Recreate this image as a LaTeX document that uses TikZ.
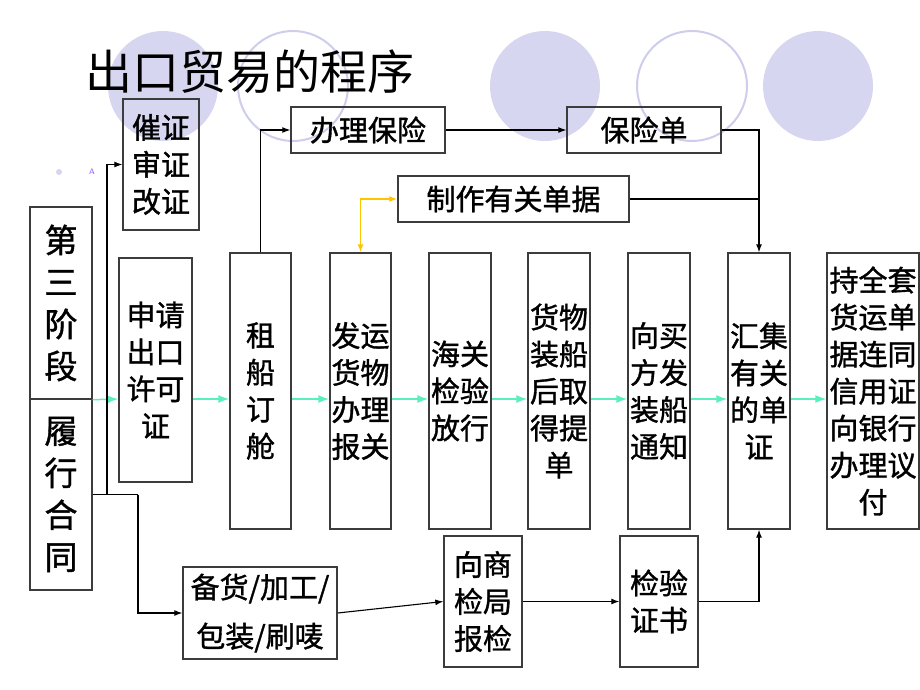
\documentclass[tikz,border=0pt]{standalone}
\usepackage{fontspec}
\newfontfamily\cjk{Noto Sans CJK SC}
\newfontfamily\cjkb[FakeBold=1.2]{Noto Sans CJK SC}
\usetikzlibrary{arrows.meta}
\definecolor{lav}{RGB}{214,214,240}
\definecolor{lavline}{RGB}{206,206,236}
\definecolor{flowg}{RGB}{90,240,190}
\definecolor{ylw}{RGB}{255,196,0}
\definecolor{boxc}{RGB}{60,60,60}
\definecolor{purp}{RGB}{150,80,255}
\begin{document}
\begin{tikzpicture}[x=1pt,y=-1pt,
 box/.style={draw=boxc,line width=1.4pt,inner sep=0pt,align=center,font=\cjkb\fontsize{29pt}{37pt}\selectfont},
 bigbox/.style={box,font=\cjkb\fontsize{33pt}{42pt}\selectfont},
 conn/.style={draw=black,line width=1.1pt,-{Latex[length=8pt,width=6pt]}},
 plainline/.style={draw=black,line width=1.1pt},
 flow/.style={draw=flowg,line width=1.5pt,-{Latex[length=11pt,width=8pt]}},
 yarrow/.style={draw=ylw,line width=1.3pt,{Latex[length=8pt,width=6pt]}-{Latex[length=8pt,width=6pt]}},
 fcirc/.style={fill=lav,draw=none},
 ocirc/.style={draw=lavline,line width=2pt},
]
\useasboundingbox (0,0) rectangle (920,690);
\fill[white] (0,0) rectangle (920,690);
% decorative circles
\fill[fcirc] (163,86) circle (55);
\draw[ocirc] (293,86) circle (55);
\fill[fcirc] (545,86) circle (55);
\draw[ocirc] (692,86) circle (55);
\fill[fcirc] (818,86) circle (55);
\fill[lav] (59,172) circle (3);
\node[text=purp,font=\sffamily\fontsize{8pt}{9pt}\selectfont,inner sep=0pt] (amark) at (92,172) {A};
% title
\node[font=\cjk\fontsize{47pt}{50pt}\selectfont,inner sep=0pt] (title) at (250,72) {出口贸易的程序};
% boxes
\node[box,minimum width=76pt,minimum height=131pt] (cz) at (161,164.5) {催证\\审证\\改证};
\node[box,minimum width=154pt,minimum height=46pt] (bl) at (368,130) {办理保险};
\node[box,minimum width=154pt,minimum height=46pt] (bxd) at (644,130) {保险单};
\node[box,minimum width=231pt,minimum height=46pt] (zz) at (513.5,199) {制作有关单据};
\node[bigbox,minimum width=62pt,minimum height=192pt] (ds) at (61,303) {第\\三\\阶\\段};
\node[bigbox,minimum width=62pt,minimum height=191pt] (lx) at (61,494.5) {履\\行\\合\\同};
\node[box,minimum width=73pt,minimum height=224pt] (sq) at (155.5,370) {申请\\出口\\许可\\证};
\node[box,minimum width=61pt,minimum height=276pt] (zc) at (260.5,391) {租\\船\\订\\舱};
\node[box,minimum width=61pt,minimum height=276pt] (fy) at (360.5,391) {发运\\货物\\办理\\报关};
\node[box,minimum width=62pt,minimum height=276pt] (hg) at (460,391) {海关\\检验\\放行};
\node[box,minimum width=62pt,minimum height=276pt] (hw) at (559,391) {货物\\装船\\后取\\得提\\单};
\node[box,minimum width=62pt,minimum height=276pt] (xm) at (659,391) {向买\\方发\\装船\\通知};
\node[box,minimum width=62pt,minimum height=276pt] (hj) at (759,391) {汇集\\有关\\的单\\证};
\node[box,minimum width=92pt,minimum height=276pt] (cq) at (873,391) {持全套\\货运单\\据连同\\信用证\\向银行\\办理议\\付};
\node[box,font=\cjkb\fontsize{29pt}{49pt}\selectfont,minimum width=154pt,minimum height=92pt] (bh) at (260,613) {备货/加工/\\包装/刷唛};
\node[box,minimum width=78pt,minimum height=131pt] (xs) at (483,601.5) {向商\\检局\\报检};
\node[box,minimum width=78pt,minimum height=131pt] (jy) at (659,601.5) {检验\\证书};
% green flow
\coordinate (gy) at (0,399);
\draw[flow] (ds.south east) -- (sq.west |- gy);
\draw[flow] (sq.east |- gy) -- (zc.west |- gy);
\draw[flow] (zc.east |- gy) -- (fy.west |- gy);
\draw[flow] (fy.east |- gy) -- (hg.west |- gy);
\draw[flow] (hg.east |- gy) -- (hw.west |- gy);
\draw[flow] (hw.east |- gy) -- (xm.west |- gy);
\draw[flow] (xm.east |- gy) -- (hj.west |- gy);
\draw[flow] (hj.east |- gy) -- (cq.west |- gy);
% black connectors
\draw[conn] (zc.north) |- (bl.west);
\draw[conn] (bl.east) -- (bxd.west);
\draw[conn] (bxd.east) -| (hj.north);
\draw[plainline] (zz.east) -- (hj.north |- zz.east);
\draw[yarrow] (zz.west) -| (fy.north);
\coordinate (b1) at (107,494.5);
\coordinate (b2) at (138,494.5);
\draw[plainline] (lx.east) -- (b2);
\draw[conn] (b1) |- (cz.west);
\draw[conn] (b2) |- (bh.west);
\draw[conn] (bh.east) -- (xs.west);
\draw[conn] (xs.east) -- (jy.west);
\draw[conn] (jy.east) -| (hj.south);
\end{tikzpicture}
\end{document}
